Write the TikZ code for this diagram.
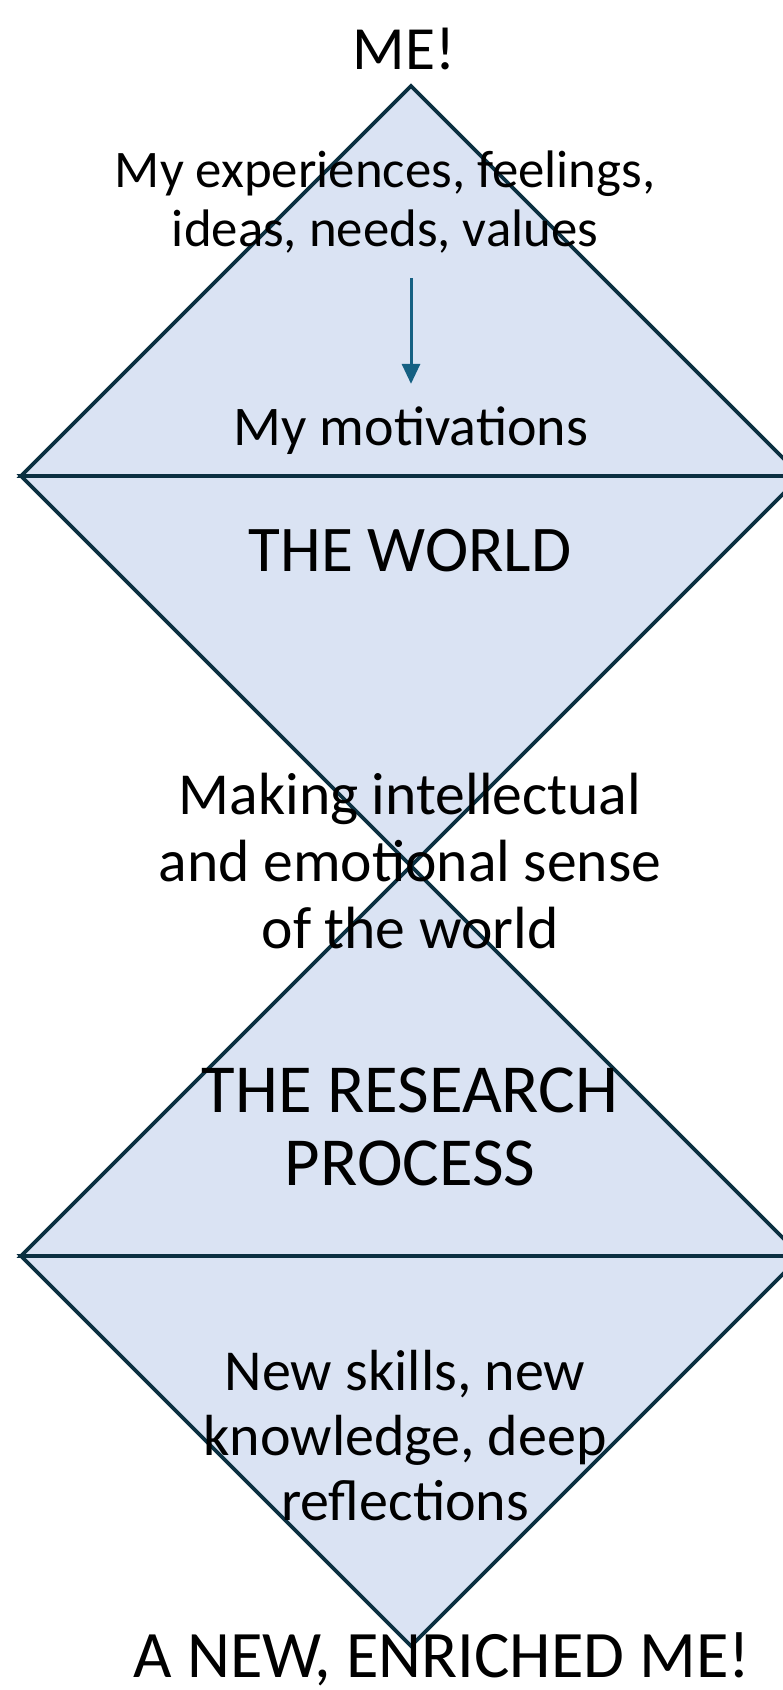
\documentclass[tikz,border=0pt]{standalone}
\usepackage{fontspec}
\setmainfont{Carlito}
\usetikzlibrary{arrows.meta}

\definecolor{trifill}{HTML}{DAE3F3}
\definecolor{triline}{HTML}{0B3041}
\definecolor{flowblue}{HTML}{156082}

\begin{document}
\begin{tikzpicture}[%
    x=0.5pt, y=-0.5pt,
    tri/.style={fill=trifill, draw=triline, line width=1.8pt, line join=miter},
    lbl/.style={inner sep=0pt, align=center, anchor=base, text=black},
    flow/.style={draw=flowblue, line width=1.5pt, -{Triangle[width=9pt,length=10pt]}}
  ]
    \useasboundingbox (0,0) rectangle (782,1690);

    % two diamonds, each an upper and a lower triangle
    \foreach \yc in {476,1256} {
      \draw[tri] (411,\yc-390) -- (21,\yc) -- (801,\yc) -- cycle;
      \draw[tri] (411,\yc+390) -- (21,\yc) -- (801,\yc) -- cycle;
    }

    % base anchor of a multi-line label = baseline of its last line
    \node[lbl, font=\fontsize{30.7}{36}\selectfont]   (me)       at (404,70)   {ME!};
    \node[lbl, font=\fontsize{26.4}{29.5}\selectfont] (exp)      at (385,247)  {My experiences, feelings,\\ideas, needs, values};
    \node[lbl, font=\fontsize{28}{34}\selectfont]     (motiv)    at (411,445)  {My motivations};
    \node[lbl, font=\fontsize{32.6}{38}\selectfont]   (world)    at (410,571)  {THE WORLD};
    \node[lbl, font=\fontsize{29.8}{33.5}\selectfont] (sense)    at (410,948)  {Making intellectual\\and emotional sense\\of the world};
    \node[lbl, font=\fontsize{34.4}{36.5}\selectfont] (research) at (410,1185) {THE RESEARCH\\PROCESS};
    \node[lbl, font=\fontsize{29}{32.5}\selectfont]   (skills)   at (405,1520) {New skills, new\\knowledge, deep\\reflections};
    \node[lbl, font=\fontsize{33.2}{38}\selectfont]   (newme)    at (442,1677) {A NEW, ENRICHED ME!};

    \draw[flow, shorten <=12pt, shorten >=11pt] (exp.south -| motiv.north) -- (motiv.north);
\end{tikzpicture}
\end{document}
